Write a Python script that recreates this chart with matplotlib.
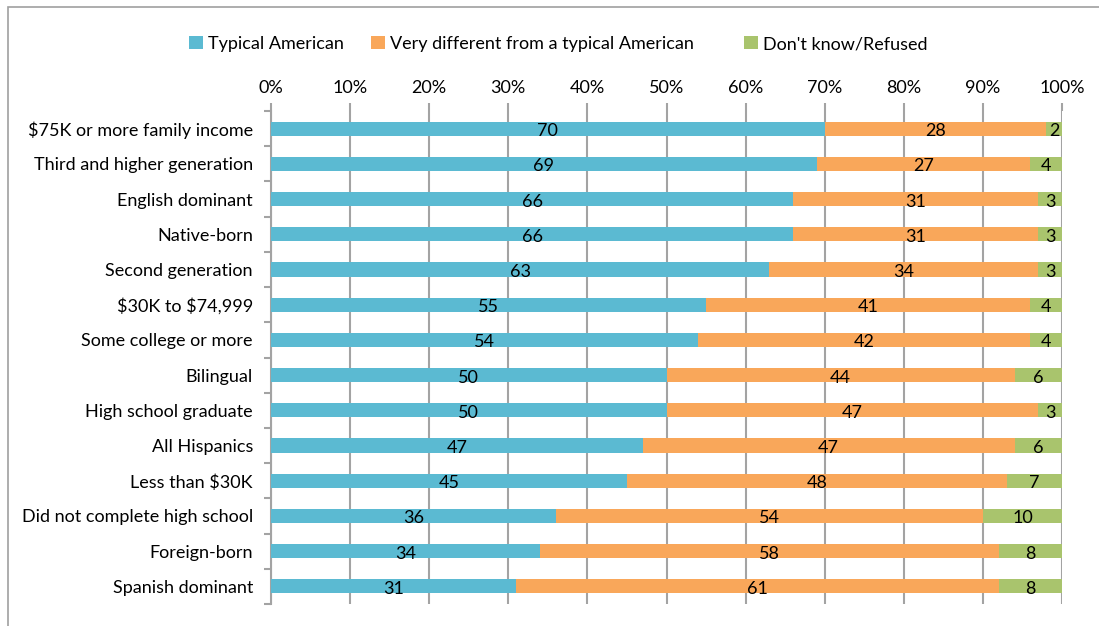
import matplotlib
matplotlib.use("Agg")
import matplotlib.pyplot as plt
from matplotlib.patches import Rectangle
from matplotlib.ticker import FixedLocator

plt.rcParams['font.family'] = ['Lato', 'DejaVu Sans']

categories = [
    "$75K or more family income",
    "Third and higher generation",
    "English dominant",
    "Native-born",
    "Second generation",
    "$30K to $74,999",
    "Some college or more",
    "Bilingual",
    "High school graduate",
    "All Hispanics",
    "Less than $30K",
    "Did not complete high school",
    "Foreign-born",
    "Spanish dominant",
]
typical = [70, 69, 66, 66, 63, 55, 54, 50, 50, 47, 45, 36, 34, 31]
very_different = [28, 27, 31, 31, 34, 41, 42, 44, 47, 47, 48, 54, 58, 61]
dont_know = [2, 4, 3, 3, 3, 4, 4, 6, 3, 6, 7, 10, 8, 8]
series_names = ["Typical American", "Very different from a typical American", "Don't know/Refused"]
colors = ["#5BBAD2", "#F9A75A", "#A9C46D"]
tick_labels = [f"{v}%" for v in range(0, 101, 10)]

FS = 13
GRID = "#A3A3A3"

fig = plt.figure(figsize=(10.99, 6.26), dpi=100)
ax = fig.add_axes([271 / 1099, 1 - 604 / 626, 791 / 1099, 493 / 626])

# outer frame of the chart area
fig.patches.append(Rectangle((8 / 1099, -0.05), 1.2, 1 - 7 / 626 + 0.05,
                             transform=fig.transFigure, fill=False,
                             edgecolor="#A0A0A0", linewidth=1.2))

y = list(range(len(categories)))
left = [0] * len(categories)
bars = []
for vals, name, col in zip([typical, very_different, dont_know], series_names, colors):
    b = ax.barh(y, vals, left=left, height=0.4, color=col, label=name, zorder=3)
    bars.append(b)
    for yi, l, v in zip(y, left, vals):
        ax.text(l + v / 2, yi + 0.07, str(v), ha="center", va="center",
                fontsize=FS, color="black", zorder=4)
    left = [a + b for a, b in zip(left, vals)]

ax.set_xlim(0, 100)
ax.set_ylim(len(categories) - 0.5, -0.5)
ax.set_xticks(range(0, 101, 10))
ax.set_xticklabels(tick_labels, fontsize=FS)
ax.xaxis.tick_top()
ax.tick_params(axis="x", direction="out", length=6, width=1.5, color=GRID, pad=5)
ax.grid(axis="x", color=GRID, linewidth=1.5, zorder=0)

ax.set_yticks(y)
ax.set_yticklabels([c.replace("$", r"\$") for c in categories], fontsize=FS)
ax.yaxis.set_minor_locator(FixedLocator([i - 0.5 for i in range(len(categories) + 1)]))
ax.tick_params(axis="y", which="major", length=0, pad=13)
ax.tick_params(axis="y", which="minor", direction="out", length=5, width=1.5, color=GRID)

for s in ["top", "right", "bottom"]:
    ax.spines[s].set_visible(False)
ax.spines["left"].set_color(GRID)
ax.spines["left"].set_linewidth(1.5)

# legend entries laid out along the top
legend_x = [189, 371, 744]
for b, name, lx in zip(bars, series_names, legend_x):
    fig.legend([b], [name], loc="center left", bbox_to_anchor=(lx / 1099, 1 - 44 / 626),
               frameon=False, fontsize=FS, handlelength=0.75, handleheight=0.75,
               handletextpad=0.3, borderpad=0, borderaxespad=0)

fig.savefig("out.png", dpi=100)
